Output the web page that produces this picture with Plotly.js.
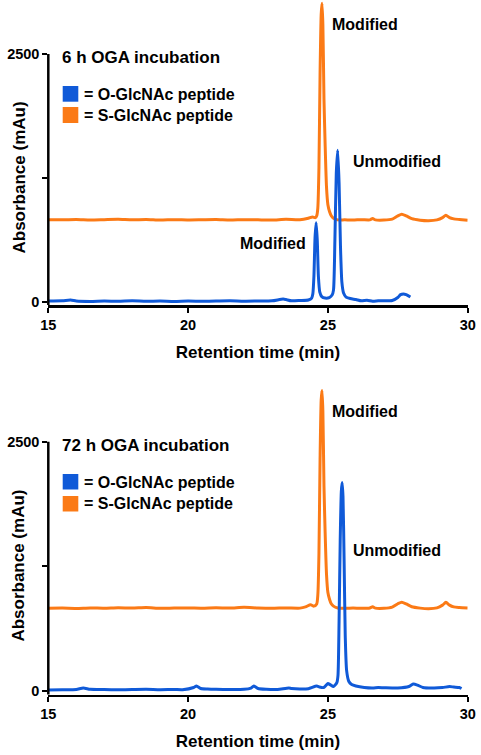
<!DOCTYPE html>
<html>
<head>
<meta charset="utf-8">
<script src="https://cdn.plot.ly/plotly-3.0.1.min.js"></script>
<style>
  html, body { margin: 0; padding: 0; background: #ffffff; }
  #chart { width: 481px; height: 755px; }
</style>
</head>
<body>
<div id="chart"></div>
<script>
// ---------------- DATA ----------------
var seriesNames = ["= O-GlcNAc peptide", "= S-GlcNAc peptide"];
var panelTitles = ["6 h OGA incubation", "72 h OGA incubation"];
var peakLabels = ["Modified", "Unmodified"];
var xTitle = "Retention time (min)";
var yTitle = "Absorbance (mAu)";
var xTickVals = [15, 20, 25, 30];
var yTickVals = [0, 1250, 2500];
var yTickText = ["0", "", "2500"];

// 6 h, O-GlcNAc peptide (blue)
var time6hO = [15.0, 15.5, 15.8, 16.0, 16.5, 17.0, 17.5, 18.0, 18.5, 19.0, 19.5, 20.0, 20.5, 21.0, 21.5, 22.0, 22.5, 23.0,
  23.4, 23.5, 23.7, 24.0, 24.3, 24.42, 24.46, 24.50, 24.54, 24.58, 24.62, 24.66, 24.71, 24.78, 24.9, 25.05,
  25.15, 25.20, 25.25, 25.30, 25.35, 25.40, 25.45, 25.50, 25.56, 25.65, 25.8, 26.0, 26.2, 26.4, 26.6, 26.8,
  27.0, 27.3, 27.5, 27.6, 27.7, 27.8, 27.95];
var abs6hO = [10, 12, 20, 10, 6, 10, 8, 12, 8, 10, 6, 10, 8, 10, 12, 8, 10, 12,
  30, 25, 12, 15, 20, 40, 80, 260, 650, 800, 620, 260, 100, 55, 40, 45,
  70, 120, 620, 1300, 1530, 1200, 560, 200, 90, 50, 35, 25, 12, 18, 8, 12,
  12, 15, 45, 75, 82, 75, 50];

// 6 h, S-GlcNAc peptide (orange)
var time6hS = [15.0, 15.5, 16.0, 16.5, 17.0, 17.5, 18.0, 18.5, 19.0, 19.5, 20.0, 20.5, 21.0, 21.5, 22.0, 22.5, 23.0, 23.5,
  24.0, 24.3, 24.45, 24.55, 24.6, 24.64, 24.68, 24.72, 24.76, 24.79, 24.82, 24.86, 24.9, 24.95, 25.0, 25.06,
  25.12, 25.2, 25.35, 25.6, 25.9, 26.2, 26.5, 26.6, 26.7, 27.0, 27.3, 27.5, 27.64, 27.8, 28.0, 28.3, 28.6,
  28.9, 29.1, 29.22, 29.35, 29.5, 29.7, 30.0];
var abs6hS = [830, 828, 832, 827, 830, 833, 828, 832, 826, 830, 827, 829, 831, 826, 830, 828, 826, 833,
  830, 845, 858, 850, 870, 950, 1360, 2300, 2900, 3010, 2800, 2040, 1600, 1160, 980, 910,
  870, 845, 828, 828, 826, 830, 828, 842, 828, 826, 835, 868, 885, 868, 840, 825, 820,
  828, 850, 875, 850, 838, 832, 825];

// 72 h, O-GlcNAc peptide (blue)
var time72hO = [15.0, 15.5, 16.0, 16.25, 16.5, 17.0, 17.5, 18.0, 18.5, 19.0, 19.5, 19.8, 20.2, 20.3, 20.45, 20.7, 21.0, 21.5,
  22.0, 22.25, 22.35, 22.5, 22.8, 23.2, 23.6, 23.7, 24.0, 24.3, 24.6, 24.7, 24.85, 25.0, 25.08, 25.2,
  25.32, 25.36, 25.40, 25.44, 25.48, 25.51, 25.54, 25.58, 25.62, 25.67, 25.75, 25.85, 26.0, 26.3, 26.6,
  26.8, 27.0, 27.5, 27.9, 28.05, 28.2, 28.4, 28.8, 29.1, 29.35, 29.5, 29.7, 29.78];
var abs72hO = [5, 8, 10, 25, 12, 10, 8, 10, 12, 8, 10, 8, 30, 45, 20, 15, 12, 10,
  12, 25, 45, 20, 12, 10, 25, 20, 15, 18, 45, 35, 30, 70, 60, 40,
  80, 150, 700, 1500, 2000, 2090, 1950, 1300, 550, 200, 90, 60, 45, 30, 25,
  30, 28, 25, 40, 65, 55, 30, 25, 30, 40, 35, 30, 20];

// 72 h, S-GlcNAc peptide (orange)
var time72hS = [15.0, 15.5, 16.0, 16.5, 17.0, 17.5, 18.0, 18.5, 19.0, 19.5, 20.0, 20.5, 21.0, 21.5, 22.0, 22.5, 23.0, 23.5,
  24.0, 24.2, 24.38, 24.5, 24.6, 24.64, 24.68, 24.72, 24.76, 24.79, 24.82, 24.86, 24.9, 24.95, 25.0, 25.06,
  25.12, 25.2, 25.35, 25.6, 25.9, 26.2, 26.5, 26.6, 26.7, 27.0, 27.3, 27.5, 27.64, 27.8, 28.0, 28.3, 28.6,
  28.9, 29.1, 29.22, 29.35, 29.5, 29.7, 30.0];
var abs72hS = [826, 828, 825, 830, 827, 832, 828, 834, 826, 829, 830, 827, 831, 828, 836, 829, 826, 830,
  828, 840, 862, 848, 870, 960, 1380, 2320, 2920, 3014, 2810, 2050, 1600, 1170, 985, 915,
  872, 848, 830, 826, 828, 826, 830, 842, 828, 826, 838, 872, 888, 870, 842, 828, 822,
  830, 858, 886, 858, 840, 834, 830];

// ---------------- STYLE / LAYOUT ----------------
var W = 481, H = 755;
var BLUE = "#105ad8", ORANGE = "#fb7a16";
var FONT = "Liberation Sans, Arial, Helvetica, sans-serif";
function px(x) { return x / W; }
function py(y) { return 1 - y / H; }

var xDomain = [px(48.3), px(467.7)];
var yRange1 = [-30, 3044];
var yRange2 = [-40, 3070];

function trace(x, y, color, name, xa, ya, showleg) {
  return {
    x: x, y: y, type: "scatter", mode: "lines", name: name,
    xaxis: xa, yaxis: ya, showlegend: false,
    line: { color: color, width: 3, shape: "spline", smoothing: 0.6 },
    hoverinfo: "x+y"
  };
}

var data = [
  trace(time6hS, abs6hS, ORANGE, seriesNames[1], "x", "y"),
  trace(time6hO, abs6hO, BLUE, seriesNames[0], "x", "y"),
  trace(time72hS, abs72hS, ORANGE, seriesNames[1], "x2", "y2"),
  trace(time72hO, abs72hO, BLUE, seriesNames[0], "x2", "y2")
];

function xAxis(anchor) {
  return {
    domain: xDomain, anchor: anchor, range: [15, 30],
    tickvals: xTickVals, ticktext: xTickVals.map(String),
    showgrid: false, zeroline: false,
    showline: true, linecolor: "#000", linewidth: 2.5,
    ticks: "outside", ticklen: 5, tickwidth: 2, tickcolor: "#000",
    tickfont: { family: FONT, size: 14.5, color: "#000", weight: "bold" },
    title: { text: xTitle, font: { family: FONT, size: 17, color: "#000", weight: "bold" }, standoff: 14 },
    fixedrange: true
  };
}
function yAxis(anchor, domain, range) {
  return {
    domain: domain, anchor: anchor, range: range,
    tickvals: yTickVals, ticktext: yTickText,
    showgrid: false, zeroline: false, showline: false,
    ticks: "outside", ticklen: 5, tickwidth: 2, tickcolor: "#000",
    tickfont: { family: FONT, size: 14.5, color: "#000", weight: "bold" },
    fixedrange: true
  };
}

function txt(text, x, y, xanchor, size, extra) {
  var a = {
    text: text, xref: "paper", yref: "paper", x: x, y: y,
    xanchor: xanchor, yanchor: "middle", showarrow: false,
    font: { family: FONT, size: size, color: "#000", weight: "bold" }
  };
  if (extra) for (var k in extra) a[k] = extra[k];
  return a;
}

var annotations = [
  // panel titles
  txt(panelTitles[0], px(60), py(58), "left", 17),
  txt(panelTitles[1], px(60), py(446), "left", 17),
  // legend text
  txt(seriesNames[0], px(82), py(94.5), "left", 16),
  txt(seriesNames[1], px(82), py(116), "left", 16),
  txt(seriesNames[0], px(82), py(482.5), "left", 16),
  txt(seriesNames[1], px(82), py(503.5), "left", 16),
  // peak labels
  txt(peakLabels[0], px(330), py(24), "left", 16),
  txt(peakLabels[1], px(351), py(162), "left", 16),
  txt(peakLabels[0], px(308), py(243), "right", 16),
  txt(peakLabels[0], px(330), py(411), "left", 16),
  txt(peakLabels[1], px(351), py(550), "left", 16),
  // y axis titles
  txt(yTitle, px(18.5), 1250, "center", 17, { yref: "y", textangle: -90 }),
  txt(yTitle, px(18.5), 1250, "center", 17, { yref: "y2", textangle: -90 })
];

function sq(x0, y0, x1, y1, color) {
  return { type: "rect", xref: "paper", yref: "paper", x0: px(x0), x1: px(x1), y0: py(y0), y1: py(y1),
    fillcolor: color, line: { width: 0 } };
}
function yLine(yref, range) {
  return { type: "line", xref: "paper", yref: yref, x0: xDomain[0], x1: xDomain[0],
    y0: range[0] - 12, y1: yTickVals[yTickVals.length - 1], line: { color: "#000", width: 2.5 } };
}

var shapes = [
  sq(62.7, 86, 78.3, 101.7, BLUE),
  sq(62.7, 107, 78.3, 123, ORANGE),
  sq(62.7, 474, 78.3, 489.5, BLUE),
  sq(62.7, 496, 78.3, 511.5, ORANGE),
  yLine("y", yRange1),
  yLine("y2", yRange2)
];

var layout = {
  width: W, height: H,
  margin: { l: 0, r: 0, t: 0, b: 0, pad: 0 },
  paper_bgcolor: "#ffffff", plot_bgcolor: "rgba(0,0,0,0)",
  font: { family: FONT, color: "#000", weight: "bold" },
  showlegend: false,
  xaxis: xAxis("y"),
  yaxis: yAxis("x", [py(305), 1], yRange1),
  xaxis2: xAxis("y2"),
  yaxis2: yAxis("x2", [py(694.5), py(385)], yRange2),
  annotations: annotations,
  shapes: shapes
};

Plotly.newPlot("chart", data, layout, { displayModeBar: false, staticPlot: true });
</script>
</body>
</html>
